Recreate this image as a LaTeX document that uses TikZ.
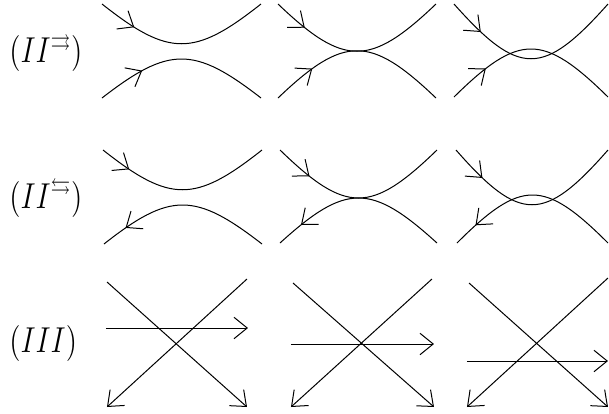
\documentclass[tikz,border=0pt]{standalone}
\usepackage{amssymb}
\usetikzlibrary{arrows.meta,decorations.markings}

\begin{document}
\begin{tikzpicture}[x=0.4pt,y=-0.4pt]
\tikzset{>={Straight Barb[length=5.3pt,width=8.6pt]}}
\tikzset{fwd/.style={postaction={decorate},decoration={markings,mark=at position #1 with {\arrow{>}}}}}
\tikzset{bwd/.style={postaction={decorate},decoration={markings,mark=at position #1 with {\arrowreversed{>}}}}}
\tikzstyle{lab} = [anchor=west,inner sep=0pt,font=\fontsize{13.5}{15}\selectfont,xscale=0.82]

\useasboundingbox (0,0) rectangle (609,414);

\node[lab] (same) at (9,52) {$(II^{\rightrightarrows})$};
\node[lab] (opp) at (9,198) {$(II^{\leftrightarrows})$};
\node[lab] (three) at (9,343) {$(III)$};

% II, same direction
\draw[fwd=0.22] (102,4) .. controls (169,57) and (194,57) .. (261,4);
\draw[fwd=0.27] (102,98) .. controls (169,46) and (194,46) .. (261,98);

\draw[fwd=0.19] (278,4) .. controls (344,67) and (370,67) .. (436,4);
\draw[fwd=0.24] (278,98) .. controls (344,35) and (370,35) .. (436,98);

\draw[fwd=0.2] (454,4) .. controls (519,77) and (543,77) .. (608,4);
\draw[fwd=0.23] (454,97) .. controls (519,33) and (543,33) .. (608,97);

% II, opposite direction
\draw[fwd=0.18] (103,150) .. controls (170,203) and (195,203) .. (262,150);
\draw[bwd=0.15] (104,244) .. controls (170,192) and (195,192) .. (262,244);

\draw[fwd=0.21] (280,150) .. controls (346,214) and (371,214) .. (437,150);
\draw[bwd=0.15] (280,243) .. controls (346,183) and (371,183) .. (437,243);

\draw[fwd=0.2] (456,150) .. controls (520,223) and (544,223) .. (608,150);
\draw[bwd=0.14] (457,243) .. controls (521,179) and (544,179) .. (608,243);

% III
\draw[->] (107,282) -- (247,407);
\draw[->] (247,279) -- (107,407);
\draw[->] (106,328) -- (248,328);

\draw[->] (293,283) -- (434,407);
\draw[->] (432,279) -- (291,407);
\draw[->] (291,344) -- (434,344);

\draw[->] (469,283) -- (608,407);
\draw[->] (608,278) -- (467,407);
\draw[->] (467,361) -- (608,361);

\end{tikzpicture}
\end{document}
